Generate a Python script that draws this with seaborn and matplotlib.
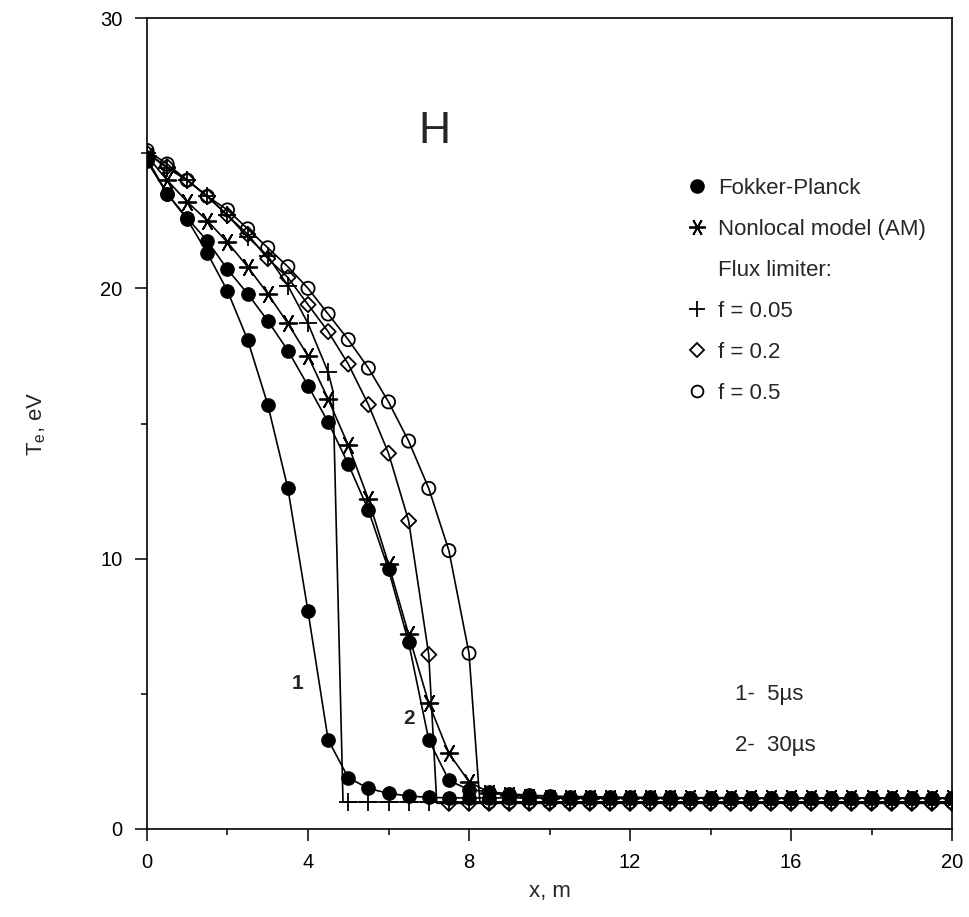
import numpy as np
import pandas as pd
import matplotlib
matplotlib.use('Agg')
import matplotlib.pyplot as plt
from matplotlib.lines import Line2D
from matplotlib.ticker import MultipleLocator
import seaborn as sns

# positions of the markers along x, m
x_grid = [0, 0.5, 1, 1.5, 2, 2.5, 3, 3.5, 4, 4.5, 5, 5.5, 6, 6.5, 7, 7.5, 8, 8.5, 9, 9.5,
          10, 10.5, 11, 11.5, 12, 12.5, 13, 13.5, 14, 14.5, 15, 15.5, 16, 16.5, 17, 17.5,
          18, 18.5, 19, 19.5, 20]

# Fokker-Planck, 5 us
fp_5us = [24.7, 23.5, 22.55, 21.3, 19.9, 18.1, 15.7, 12.6, 8.05, 3.3, 1.9, 1.5, 1.32, 1.22,
          1.17, 1.15, 1.15, 1.15, 1.15, 1.15, 1.15, 1.15, 1.15, 1.15, 1.15, 1.15, 1.15, 1.15,
          1.15, 1.15, 1.15, 1.15, 1.15, 1.15, 1.15, 1.15, 1.15, 1.15, 1.15, 1.15, 1.15]
# Fokker-Planck, 30 us
fp_30us = [24.8, 23.5, 22.6, 21.75, 20.7, 19.8, 18.8, 17.7, 16.4, 15.05, 13.5, 11.8, 9.6, 6.9,
           3.3, 1.8, 1.45, 1.38, 1.3, 1.25, 1.22, 1.2, 1.2, 1.18, 1.18, 1.17, 1.17, 1.16, 1.16,
           1.16, 1.15, 1.15, 1.15, 1.15, 1.15, 1.15, 1.15, 1.15, 1.15, 1.15, 1.15]
# nonlocal model (AM), 30 us
am_30us = [24.9, 24.0, 23.2, 22.5, 21.7, 20.8, 19.8, 18.7, 17.5, 15.9, 14.2, 12.2, 9.8, 7.2,
           4.65, 2.8, 1.75, 1.35, 1.25, 1.2, 1.15, 1.15, 1.15, 1.15, 1.15, 1.15, 1.15, 1.15,
           1.15, 1.15, 1.15, 1.15, 1.15, 1.15, 1.15, 1.15, 1.15, 1.15, 1.15, 1.15, 1.15]
# flux limiter f = 0.05
fl_005 = [25.0, 24.45, 24.0, 23.4, 22.7, 21.9, 21.2, 20.1, 18.7, 16.9, 1.0, 1.0, 1.0, 1.0,
          1.0, 1.0, 1.0, 1.0, 1.0, 1.0, 1.0, 1.0, 1.0, 1.0, 1.0, 1.0, 1.0, 1.0, 1.0, 1.0, 1.0,
          1.0, 1.0, 1.0, 1.0, 1.0, 1.0, 1.0, 1.0, 1.0, 1.0]
# flux limiter f = 0.2
fl_02 = [25.0, 24.5, 24.0, 23.4, 22.7, 22.0, 21.1, 20.4, 19.4, 18.4, 17.2, 15.7, 13.9, 11.4,
         6.45, 0.95, 0.95, 0.95, 0.95, 0.95, 0.95, 0.95, 0.95, 0.95, 0.95, 0.95, 0.95, 0.95,
         0.95, 0.95, 0.95, 0.95, 0.95, 0.95, 0.95, 0.95, 0.95, 0.95, 0.95, 0.95, 0.95]
# flux limiter f = 0.5
fl_05 = [25.1, 24.6, 24.0, 23.4, 22.9, 22.2, 21.5, 20.8, 20.0, 19.05, 18.1, 17.05, 15.8, 14.35,
         12.6, 10.3, 6.5, 1.0, 1.0, 1.0, 1.0, 1.0, 1.0, 1.0, 1.0, 1.0, 1.0, 1.0, 1.0, 1.0, 1.0,
         1.0, 1.0, 1.0, 1.0, 1.0, 1.0, 1.0, 1.0, 1.0, 1.0]

# extra line knots where the flux-limited fronts drop to the floor (no markers there)
fl_005_knot_x = [4.62, 4.87]
fl_005_knot_y = [16.2, 1.0]
fl_02_knot_x = [7.2]
fl_02_knot_y = [0.95]
fl_05_knot_x = [8.27]
fl_05_knot_y = [1.0]

series = {
    'fp_5us': (fp_5us, [], []),
    'fp_30us': (fp_30us, [], []),
    'am_30us': (am_30us, [], []),
    'fl_005': (fl_005, fl_005_knot_x, fl_005_knot_y),
    'fl_02': (fl_02, fl_02_knot_x, fl_02_knot_y),
    'fl_05': (fl_05, fl_05_knot_x, fl_05_knot_y),
}

star = (6, 2, 90)
marker_style = {
    'fp_5us': dict(marker='o', s=95, color='black', edgecolor='black'),
    'fp_30us': dict(marker='o', s=95, color='black', edgecolor='black'),
    'am_30us': dict(marker=star, s=160, color='black', linewidth=1.3),
    'fl_005': dict(marker='+', s=150, color='black', linewidth=1.3),
    'fl_02': dict(marker='D', s=60, color='black', facecolor='none', edgecolor='black',
                  linewidth=1.3),
    'fl_05': dict(marker='o', s=90, color='black', facecolor='none', edgecolor='black',
                  linewidth=1.3),
}

sns.set_theme(style='ticks')
plt.rcParams['font.family'] = ['Liberation Sans', 'DejaVu Sans']
plt.rcParams['mathtext.fontset'] = 'custom'
plt.rcParams['mathtext.rm'] = 'Liberation Sans'
plt.rcParams['mathtext.it'] = 'Liberation Sans'

fig = plt.figure(figsize=(9.7, 9.17), dpi=100)
ax = fig.add_axes([147 / 970, 1 - 829 / 917, 805 / 970, 811 / 917])

for name, (yv, kx, ky) in series.items():
    line = pd.DataFrame({'x': list(x_grid) + kx, 'y': list(yv) + ky}).sort_values('x')
    sns.lineplot(data=line, x='x', y='y', color='black', linewidth=1.2,
                 estimator=None, sort=False, ax=ax, zorder=2)
    pts = pd.DataFrame({'x': x_grid, 'y': yv})
    sns.scatterplot(data=pts, x='x', y='y', ax=ax, zorder=3, **marker_style[name])

ax.set_xlim(0, 20)
ax.set_ylim(0, 30)
ax.xaxis.set_major_locator(MultipleLocator(4))
ax.xaxis.set_minor_locator(MultipleLocator(2))
ax.yaxis.set_major_locator(MultipleLocator(10))
ax.yaxis.set_minor_locator(MultipleLocator(5))
ax.tick_params(which='major', direction='out', length=8.5, width=1.1, pad=9,
               labelsize=14.5, color='black', labelcolor='black')
ax.tick_params(which='minor', direction='out', length=4.3, width=1.1, color='black')
for sp in ax.spines.values():
    sp.set_linewidth(1.2)
    sp.set_color('black')

ax.set_xlabel('x, m', fontsize=16, labelpad=6)
ax.set_ylabel('T$_\\mathregular{e}$, eV', fontsize=16, labelpad=38)

ax.text(7.14, 25.8, 'H', fontsize=32, ha='center', va='center')
ax.text(3.74, 5.37, '1', fontsize=15, fontweight='bold', ha='center', va='center')
ax.text(6.52, 4.1, '2', fontsize=15, fontweight='bold', ha='center', va='center')
ax.text(14.62, 4.96, '1-  5µs', fontsize=16, ha='left', va='center')
ax.text(14.62, 3.1, '2-  30µs', fontsize=16, ha='left', va='center')

handles = [
    Line2D([], [], linestyle='none', marker='o', markersize=9.5, color='black'),
    Line2D([], [], linestyle='none', marker=star, markersize=12, color='black', markeredgewidth=1.3),
    Line2D([], [], linestyle='none', marker=None),
    Line2D([], [], linestyle='none', marker='+', markersize=11, color='black', markeredgewidth=1.3),
    Line2D([], [], linestyle='none', marker='D', markersize=7, markerfacecolor='none',
           markeredgecolor='black', markeredgewidth=1.3),
    Line2D([], [], linestyle='none', marker='o', markersize=8.5, markerfacecolor='none',
           markeredgecolor='black', markeredgewidth=1.3),
]
labels = ['Fokker-Planck', 'Nonlocal model (AM)', 'Flux limiter:', 'f = 0.05', 'f = 0.2', 'f = 0.5']
ax.legend(handles, labels, loc='upper left', bbox_to_anchor=(668 / 970, 1 - 158 / 917),
          bbox_transform=fig.transFigure, frameon=False, fontsize=16,
          handlelength=0.8, handletextpad=0.55, labelspacing=0.9, borderpad=0.4)

fig.savefig('out.png', dpi=100)
